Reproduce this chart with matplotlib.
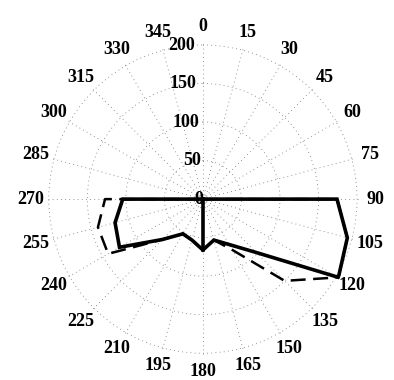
import numpy as np
import matplotlib
matplotlib.use("Agg")
import matplotlib.pyplot as plt

# angles in degrees, clockwise from north
angles = list(range(0, 360, 15))
r_solid = [0, 0, 0, 0, 0, 0, 174, 194, 203, 98, 68, 55,
           66, 55, 52, 74, 125, 118, 104, 0, 0, 0, 0, 0]
r_dashed = [0, 0, 0, 0, 0, 0, 174, 194, 203, 150, 76, 55,
            66, 55, 52, 74, 142, 141, 127, 0, 0, 0, 0, 0]
# thick stroke down the 180 spoke
spoke_angles = [180, 180]
spoke_r = [0, 66]

r_ticks = [0, 50, 100, 150, 200]

plt.rcParams['font.family'] = ['Liberation Serif', 'DejaVu Serif']
plt.rcParams['font.weight'] = 'bold'

fig = plt.figure(figsize=(3.94, 3.80), dpi=100)
ax = fig.add_axes([0.114, 0.06, 0.802, 0.832], projection='polar')
ax.set_theta_zero_location('N')
ax.set_theta_direction(-1)


def closed(a, r):
    th = np.deg2rad(list(a) + [a[0]])
    return th, list(r) + [r[0]]


th, rr = closed(angles, r_dashed)
ax.plot(th, rr, color='black', lw=1.8, ls=(0, (6, 3)), zorder=3)
th, rr = closed(angles, r_solid)
ax.plot(th, rr, color='black', lw=2.6, zorder=4, solid_joinstyle='miter')
ax.plot(np.deg2rad(spoke_angles), spoke_r, color='black', lw=2.6, zorder=4)

ax.set_ylim(0, 205)
ax.set_yticks(r_ticks)
ax.set_yticklabels([])
for r in r_ticks:
    ax.text(np.deg2rad(357), r, str(r), ha='right', va='center',
            fontsize=13, fontweight='bold')

ax.set_thetagrids(angles, [str(a) for a in angles], fontsize=13, fontweight='bold')
ax.tick_params(axis='x', pad=0)
ax.grid(True, color='0.45', lw=0.6, ls=(0, (1, 4)))
ax.spines['polar'].set_visible(False)

fig.savefig('out.png', dpi=100)
